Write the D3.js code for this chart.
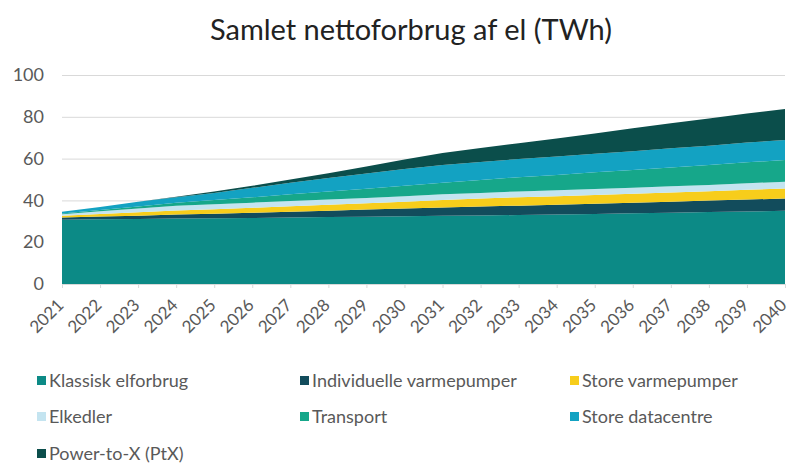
<!DOCTYPE html>
<html>
<head>
<meta charset="utf-8">
<script src="https://cdn.jsdelivr.net/npm/d3@7"></script>
<style>
  body { margin: 0; background: #fff; }
  svg { font-family: Lato, "Open Sans", sans-serif; }
</style>
</head>
<body>
<div id="chart"></div>
<script>
// data (TWh)
const years = d3.range(2021, 2041);
const seriesNames = ['Klassisk elforbrug', 'Individuelle varmepumper', 'Store varmepumper',
  'Elkedler', 'Transport', 'Store datacentre', 'Power-to-X (PtX)'];
const klassisk = [30.8, 31.0, 31.1, 31.3, 31.4, 31.6, 31.8, 32.0, 32.2, 32.4,
  32.6, 32.8, 33.0, 33.2, 33.5, 33.8, 34.1, 34.4, 34.7, 35.0];
const individuelle = [1.0, 1.3, 1.6, 1.9, 2.2, 2.5, 2.8, 3.1, 3.4, 3.7,
  4.0, 4.3, 4.5, 4.7, 4.9, 5.1, 5.3, 5.5, 5.7, 5.9];
const storeVP = [0.8, 1.2, 1.6, 2.0, 2.2, 2.4, 2.6, 2.8, 3.0, 3.3,
  3.6, 3.8, 4.0, 4.1, 4.2, 4.3, 4.4, 4.5, 4.7, 4.8];
const elkedler = [0.8, 1.3, 1.8, 2.2, 2.4, 2.4, 2.5, 2.5, 2.6, 2.6,
  2.7, 2.7, 2.8, 2.8, 2.9, 2.9, 3.0, 3.0, 3.1, 3.2];
const transport = [0.3, 0.6, 1.0, 1.5, 2.0, 2.6, 3.2, 3.8, 4.4, 5.0,
  5.6, 6.2, 6.8, 7.4, 8.0, 8.5, 9.0, 9.5, 10.0, 10.4];
const datacentre = [0.9, 1.5, 2.2, 2.6, 3.4, 4.5, 5.5, 6.5, 7.3, 8.0,
  8.4, 8.6, 8.7, 8.8, 8.8, 8.9, 9.1, 9.3, 9.5, 9.6];
const ptx = [0.0, 0.0, 0.1, 0.3, 0.6, 1.0, 1.6, 2.3, 3.3, 4.6,
  5.8, 6.7, 7.6, 8.6, 9.7, 11.0, 12.0, 13.0, 13.9, 14.8];
const yTicks = [0, 20, 40, 60, 80, 100];

const colors = ['#0c8a86', '#124c5c', '#f7cd1b', '#c4e4f0', '#16a78a', '#13a2c2', '#0b4e4b'];

const width = 791, height = 465;
const margin = {top: 75, right: 6, bottom: 181, left: 62};

const svg = d3.select('#chart').append('svg')
  .attr('width', width)
  .attr('height', height);

svg.append('text')
  .attr('x', 411)
  .attr('y', 40)
  .attr('text-anchor', 'middle')
  .attr('font-size', 29)
  .attr('fill', '#222')
  .text('Samlet nettoforbrug af el (TWh)');

const x = d3.scaleLinear().domain([2021, 2040]).range([margin.left, width - margin.right]);
const y = d3.scaleLinear().domain([0, 100]).range([height - margin.bottom, margin.top]);

// gridlines + y labels
const yAxis = svg.append('g')
  .attr('transform', 'translate(' + margin.left + ',0)')
  .call(d3.axisLeft(y).tickValues(yTicks)
    .tickSize(-(width - margin.left - margin.right)).tickPadding(18));
yAxis.select('.domain').remove();
yAxis.selectAll('.tick line').attr('stroke', '#d9d9d9');
yAxis.selectAll('.tick text').attr('font-size', 18).attr('fill', '#595959')
  .attr('font-family', 'Lato, sans-serif');

const table = years.map((yr, i) => ({
  year: yr,
  s0: klassisk[i], s1: individuelle[i], s2: storeVP[i], s3: elkedler[i],
  s4: transport[i], s5: datacentre[i], s6: ptx[i]
}));
const keys = ['s0', 's1', 's2', 's3', 's4', 's5', 's6'];
const stacked = d3.stack().keys(keys)(table);

const area = d3.area()
  .x(d => x(d.data.year))
  .y0(d => y(d[0]))
  .y1(d => y(d[1]));

svg.append('g').selectAll('path')
  .data(stacked)
  .join('path')
  .attr('d', area)
  .attr('fill', (d, i) => colors[i]);

// x axis
const xAxis = svg.append('g')
  .attr('transform', 'translate(0,' + y(0) + ')')
  .call(d3.axisBottom(x).tickValues(years).tickFormat(d3.format('d')).tickSize(4));
xAxis.select('.domain').attr('stroke', '#d9d9d9');
xAxis.selectAll('.tick line').attr('stroke', '#d9d9d9');
xAxis.selectAll('.tick text')
  .attr('font-size', 17)
  .attr('fill', '#595959')
  .attr('font-family', 'Lato, sans-serif')
  .attr('text-anchor', 'end')
  .attr('x', 0)
  .attr('y', 0)
  .attr('dy', '0.35em')
  .attr('transform', 'translate(-2,18) rotate(-45)');

// legend
const legendPos = [[37, 381], [300, 381], [570, 381], [37, 417], [300, 417], [570, 417], [37, 454]];
const legend = svg.append('g').selectAll('g')
  .data(seriesNames)
  .join('g')
  .attr('transform', (d, i) => 'translate(' + legendPos[i][0] + ',' + legendPos[i][1] + ')');
legend.append('rect')
  .attr('x', 0).attr('y', -5).attr('width', 9).attr('height', 9)
  .attr('fill', (d, i) => colors[i]);
legend.append('text')
  .attr('x', 12)
  .attr('dy', '0.35em')
  .attr('font-size', 18)
  .attr('fill', '#595959')
  .text(d => d);
</script>
</body>
</html>
